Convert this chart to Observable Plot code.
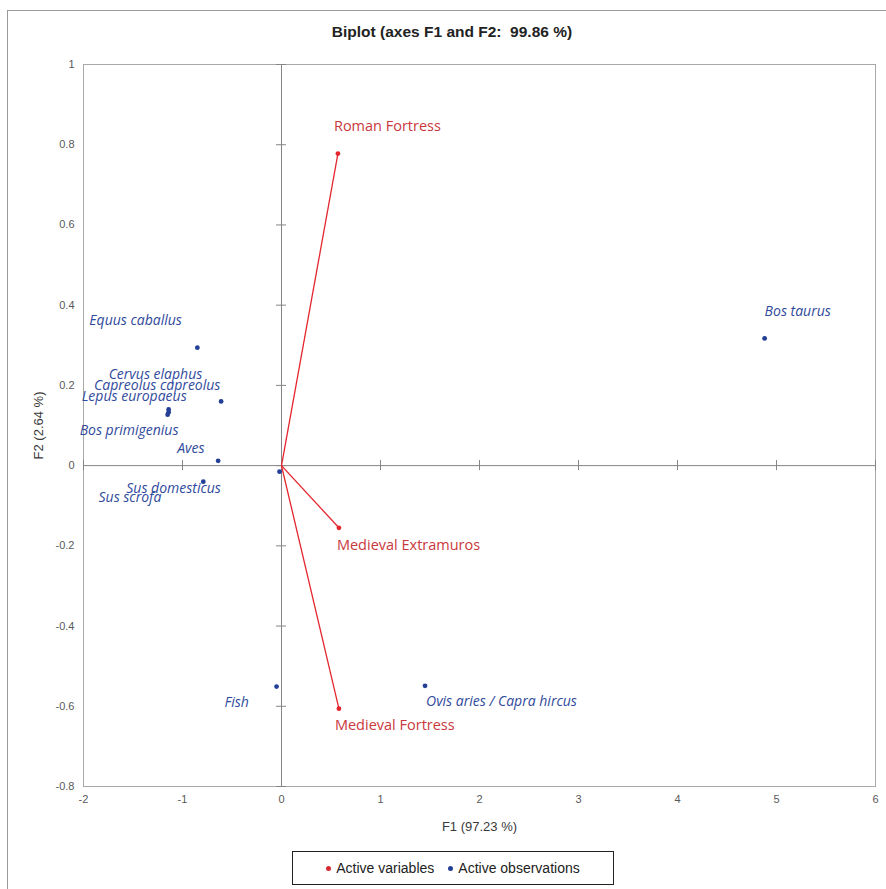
<!DOCTYPE html>
<html>
<head>
<meta charset="utf-8">
<script src="https://cdn.jsdelivr.net/npm/d3@7"></script>
<script src="https://cdn.jsdelivr.net/npm/@observablehq/plot@0.6"></script>
<style>
  html, body { margin: 0; padding: 0; background: #fff; width: 886px; height: 889px; overflow: hidden; }
  #wrap { position: relative; width: 886px; height: 889px; }
  #border { position: absolute; left: 7px; top: 10px; width: 920px; height: 920px; border: 1px solid #9a9a9a; box-sizing: border-box; }
  #title { position: absolute; top: 23px; left: 0; width: 904px; text-align: center; font: bold 15.5px "Liberation Sans", Arial, sans-serif; color: #222; white-space: pre; }
  #chart { position: absolute; left: 0; top: 0; }
  #legend { position: absolute; left: 292px; top: 851px; width: 322px; height: 34px; border: 1px solid #222; box-sizing: border-box; display: flex; align-items: center; justify-content: center; gap: 14px; font: 14px "Liberation Sans Narrow", "Arial Narrow", "Liberation Sans", sans-serif; color: #222; }
  .item { display: flex; align-items: center; gap: 5px; }
  .dot { width: 5px; height: 5px; border-radius: 50%; display: inline-block; }
</style>
</head>
<body>
<div id="wrap">
  <div id="border"></div>
  <div id="chart"></div>
  <div id="title">Biplot (axes F1 and F2:  99.86 %)</div>
  <div id="legend">
    <span class="item"><span class="dot" style="background:#d42a30"></span>Active variables</span>
    <span class="item"><span class="dot" style="background:#233f96"></span>Active observations</span>
  </div>
</div>
<script>
// ---- data ----
const observations = ["Equus caballus", "Cervus elaphus", "Capreolus capreolus", "Lepus europaeus", "Bos primigenius", "Aves", "Sus domesticus", "Sus scrofa", "Fish", "Ovis aries / Capra hircus", "Bos taurus"];
const obsF1 = [-0.85, -1.14, -0.61, -1.15, -1.14, -0.64, -0.79, -0.02, -0.05, 1.45, 4.88];
const obsF2 = [0.294, 0.140, 0.160, 0.127, 0.133, 0.012, -0.040, -0.015, -0.551, -0.549, 0.317];

const variables = ["Roman Fortress", "Medieval Extramuros", "Medieval Fortress"];
const varF1 = [0.57, 0.58, 0.58];
const varF2 = [0.778, -0.155, -0.606];

const xTickValues = [-2, -1, 0, 1, 2, 3, 4, 5, 6];
const yTickValues = [-0.8, -0.6, -0.4, -0.2, 0, 0.2, 0.4, 0.6, 0.8, 1];

// ---- label placement (pixel offsets from each point, text start) ----
const obsLabelOffsets = [[-108, -27], [-60, -35], [-127, -16], [-86, -18], [-89, 18], [-41, -12], [-77, 7], [-181, 26], [-52, 16], [1, 16], [0, -27]];
const varLabelOffsets = [[-4, -27], [-2, 18], [-4, 17]];

const obs = observations.map((name, i) => ({name, x: obsF1[i], y: obsF2[i]}));
const vars = variables.map((name, i) => ({name, x: varF1[i], y: varF2[i]}));

const blue = "#233f96", blueText = "#2f4a9c", red = "#e3262e", redText = "#c9383c";
const labelFont = '"Open Sans", "Noto Sans", sans-serif';

const marks = [
  Plot.frame({stroke: "#a8a8a8"}),
  Plot.ruleX([0], {stroke: "#858585"}),
  Plot.ruleY([0], {stroke: "#858585"}),
  Plot.ruleY(yTickValues, {y: d => d, x1: -0.05, x2: 0.05, stroke: "#858585"}),
  Plot.ruleX(xTickValues, {x: d => d, y1: -0.0125, y2: 0.0125, stroke: "#858585"}),
  Plot.link(vars, {x1: () => 0, y1: () => 0, x2: "x", y2: "y", stroke: red, strokeWidth: 1.3}),
  Plot.dot(vars, {x: "x", y: "y", r: 2.4, fill: red}),
  Plot.dot(obs, {x: "x", y: "y", r: 2.4, fill: blue}),
  ...obs.map((d, i) => Plot.text([d], {x: "x", y: "y", text: "name", textAnchor: "start", dx: obsLabelOffsets[i][0], dy: obsLabelOffsets[i][1], fill: blueText, fontStyle: "italic", fontSize: 14, fontFamily: labelFont})),
  ...vars.map((d, i) => Plot.text([d], {x: "x", y: "y", text: "name", textAnchor: "start", dx: varLabelOffsets[i][0], dy: varLabelOffsets[i][1], fill: redText, fontSize: 14.5, fontFamily: labelFont}))
];

const chart = Plot.plot({
  width: 886,
  height: 840,
  marginTop: 64,
  marginLeft: 83,
  marginRight: 11,
  marginBottom: 54,
  style: {fontFamily: '"Liberation Sans Narrow", "Arial Narrow", "Liberation Sans", sans-serif', fontSize: "11px", color: "#595959", background: "transparent"},
  x: {domain: [-2, 6], ticks: xTickValues, tickSize: 0, tickPadding: 9, tickFormat: d => String(d), label: "F1 (97.23 %)", labelAnchor: "center", labelOffset: 44, labelArrow: "none"},
  y: {domain: [-0.8, 1], ticks: yTickValues, tickSize: 0, tickPadding: 9, tickFormat: d => String(+d.toFixed(1)), label: "F2 (2.64 %)", labelAnchor: "center", labelOffset: 50, labelArrow: "none"},
  marks
});
document.getElementById("chart").appendChild(chart);
d3.select(chart).selectAll("[aria-label='x-axis label'] text, [aria-label='y-axis label'] text").style("font-size", "13px").style("fill", "#3a3a3a");
</script>
</body>
</html>
